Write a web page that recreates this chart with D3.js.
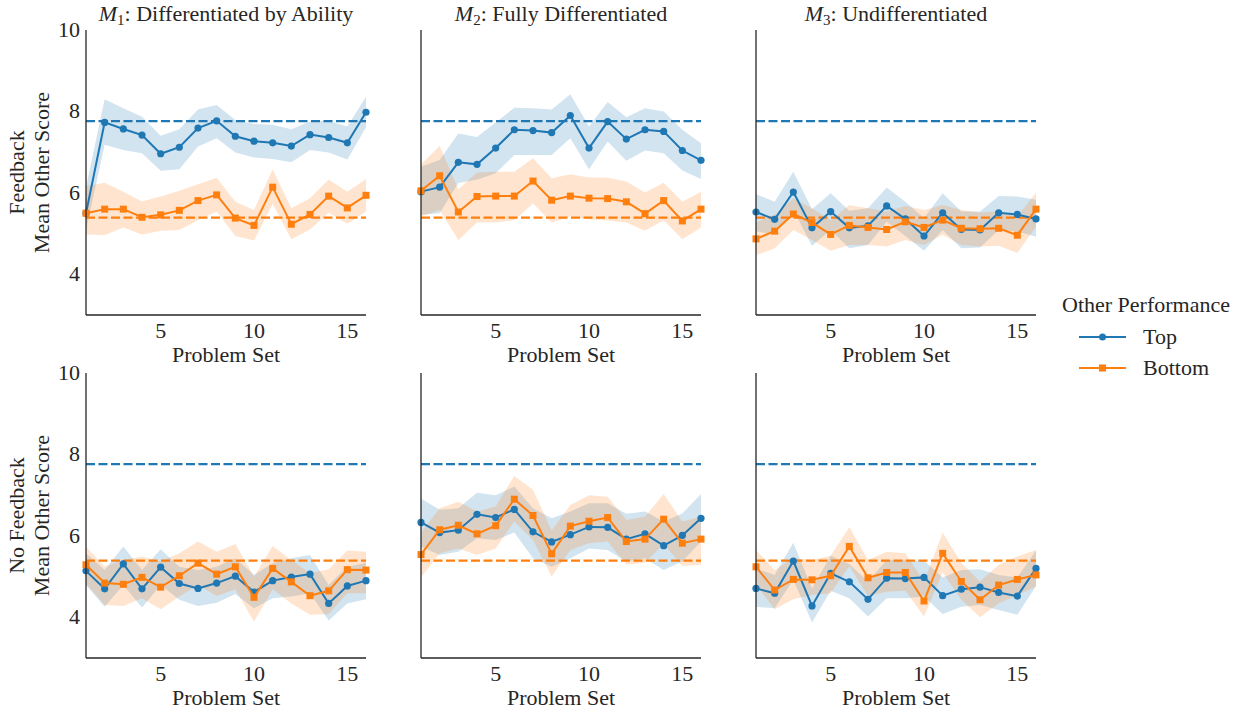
<!DOCTYPE html>
<html>
<head>
<meta charset="utf-8">
<script src="https://cdn.jsdelivr.net/npm/d3@7"></script>
<style>
  body { margin: 0; background: white; }
</style>
</head>
<body>
<div id="canvas"></div>
<script>
// Problem sets on the x axis
const problemSets = [1, 2, 3, 4, 5, 6, 7, 8, 9, 10, 11, 12, 13, 14, 15, 16];
const xTicks = [5, 10, 15];
const yTicks = [4, 6, 8, 10];
const columnTitles = [["M", "1", ": Differentiated by Ability"], ["M", "2", ": Fully Differentiated"], ["M", "3", ": Undifferentiated"]];
const rowLabels = [["Feedback", "Mean Other Score"], ["No Feedback", "Mean Other Score"]];
const seriesNames = ["Top", "Bottom"];
const refTop = 7.76;
const refBottom = 5.39;

// M1, feedback
const m1FbTop = [5.50, 7.73, 7.57, 7.42, 6.96, 7.12, 7.59, 7.77, 7.39, 7.27, 7.23, 7.15, 7.43, 7.36, 7.23, 7.98];
const m1FbTopLo = [5.08, 7.18, 7.05, 6.97, 6.54, 6.58, 7.14, 7.34, 6.99, 6.87, 6.83, 6.75, 7.05, 6.99, 6.82, 7.61];
const m1FbTopHi = [6.14, 8.30, 8.08, 7.87, 7.40, 7.56, 8.05, 8.16, 7.79, 7.69, 7.67, 7.56, 7.75, 7.77, 7.63, 8.36];
const m1FbBot = [5.50, 5.60, 5.60, 5.40, 5.46, 5.57, 5.81, 5.95, 5.38, 5.20, 6.14, 5.23, 5.47, 5.92, 5.63, 5.94];
const m1FbBotLo = [4.98, 4.96, 5.15, 4.98, 5.07, 5.09, 5.33, 5.54, 4.94, 4.83, 5.73, 4.86, 5.10, 5.51, 5.24, 5.54];
const m1FbBotHi = [6.17, 6.25, 6.03, 5.79, 5.91, 6.05, 6.21, 6.37, 5.78, 5.58, 6.58, 5.62, 5.87, 6.33, 6.03, 6.34];

// M2, feedback
const m2FbTop = [6.03, 6.14, 6.75, 6.70, 7.10, 7.55, 7.53, 7.48, 7.90, 7.10, 7.75, 7.32, 7.55, 7.51, 7.04, 6.80];
const m2FbTopLo = [5.46, 5.50, 6.24, 6.32, 6.48, 6.93, 6.93, 6.93, 7.34, 6.58, 7.26, 6.79, 7.04, 6.97, 6.55, 6.34];
const m2FbTopHi = [6.64, 6.81, 7.46, 7.37, 7.73, 8.09, 8.08, 8.05, 8.42, 7.63, 8.23, 7.86, 8.08, 8.00, 7.55, 7.22];
const m2FbBot = [6.05, 6.42, 5.53, 5.91, 5.92, 5.92, 6.29, 5.82, 5.92, 5.87, 5.86, 5.78, 5.49, 5.81, 5.31, 5.60];
const m2FbBotLo = [5.42, 5.58, 4.84, 5.27, 5.27, 5.33, 5.74, 5.27, 5.42, 5.35, 5.32, 5.27, 5.07, 5.33, 4.86, 5.15];
const m2FbBotHi = [6.69, 7.16, 6.09, 6.50, 6.52, 6.52, 6.85, 6.36, 6.46, 6.38, 6.37, 6.28, 6.01, 6.25, 5.78, 6.03];

// M3, feedback
const m3FbTop = [5.53, 5.35, 6.02, 5.14, 5.54, 5.14, 5.19, 5.68, 5.36, 4.94, 5.51, 5.10, 5.09, 5.51, 5.47, 5.36];
const m3FbTopLo = [5.06, 4.97, 5.58, 4.70, 5.09, 4.64, 4.72, 5.29, 4.94, 4.58, 5.09, 4.64, 4.66, 5.09, 5.05, 4.92];
const m3FbTopHi = [5.97, 5.78, 6.52, 5.60, 5.99, 5.56, 5.62, 6.13, 5.78, 5.38, 5.99, 5.54, 5.54, 5.92, 5.91, 5.83];
const m3FbBot = [4.87, 5.06, 5.48, 5.27, 4.98, 5.20, 5.15, 5.10, 5.29, 5.15, 5.33, 5.13, 5.12, 5.13, 4.96, 5.60];
const m3FbBotLo = [4.47, 4.64, 5.09, 4.84, 4.58, 4.72, 4.72, 4.68, 4.84, 4.72, 4.97, 4.72, 4.68, 4.70, 4.52, 5.17];
const m3FbBotHi = [5.27, 5.46, 5.87, 5.62, 5.33, 5.70, 5.62, 5.54, 5.68, 5.58, 5.70, 5.58, 5.52, 5.54, 5.42, 6.01];

// M1, no feedback
const m1NfTop = [5.14, 4.70, 5.31, 4.70, 5.23, 4.83, 4.71, 4.84, 5.01, 4.62, 4.90, 4.99, 5.06, 4.34, 4.77, 4.90];
const m1NfTopLo = [4.79, 4.26, 4.79, 4.24, 4.79, 4.43, 4.28, 4.36, 4.57, 4.22, 4.47, 4.51, 4.59, 3.92, 4.34, 4.44];
const m1NfTopHi = [5.57, 5.16, 5.74, 5.16, 5.67, 5.24, 5.16, 5.24, 5.45, 5.04, 5.33, 5.45, 5.53, 4.79, 5.24, 5.34];
const m1NfBot = [5.29, 4.84, 4.81, 4.98, 4.74, 5.02, 5.33, 5.06, 5.24, 4.49, 5.20, 4.87, 4.53, 4.65, 5.17, 5.16];
const m1NfBotLo = [4.83, 4.30, 4.28, 4.47, 4.20, 4.51, 4.79, 4.52, 4.69, 3.89, 4.69, 4.34, 4.06, 4.08, 4.59, 4.59];
const m1NfBotHi = [5.74, 5.24, 5.41, 5.49, 5.37, 5.57, 5.86, 5.61, 5.80, 5.00, 5.75, 5.41, 5.08, 5.18, 5.64, 5.61];

// M2, no feedback
const m2NfTop = [6.33, 6.08, 6.14, 6.53, 6.45, 6.65, 6.10, 5.85, 6.03, 6.22, 6.21, 5.92, 6.05, 5.76, 6.01, 6.43];
const m2NfTopLo = [5.74, 5.53, 5.61, 5.94, 5.90, 6.08, 5.45, 5.24, 5.45, 5.69, 5.65, 5.37, 5.45, 5.16, 5.37, 5.86];
const m2NfTopHi = [6.92, 6.64, 6.68, 7.06, 7.00, 7.21, 6.68, 6.43, 6.60, 6.80, 6.80, 6.54, 6.60, 6.35, 6.55, 7.03];
const m2NfBot = [5.54, 6.15, 6.26, 6.05, 6.25, 6.90, 6.50, 5.56, 6.24, 6.36, 6.45, 5.86, 5.92, 6.41, 5.82, 5.92];
const m2NfBotLo = [4.98, 5.57, 5.69, 5.53, 5.69, 6.35, 5.90, 5.00, 5.65, 5.82, 5.86, 5.29, 5.34, 5.80, 5.26, 5.29];
const m2NfBotHi = [6.08, 6.68, 6.84, 6.60, 6.72, 7.47, 7.13, 6.13, 6.76, 7.00, 6.96, 6.39, 6.47, 7.03, 6.35, 6.47];

// M3, no feedback
const m3NfTop = [4.71, 4.59, 5.38, 4.28, 5.08, 4.87, 4.44, 4.96, 4.95, 4.98, 4.53, 4.69, 4.74, 4.61, 4.52, 5.20];
const m3NfTopLo = [4.26, 4.22, 4.92, 3.87, 4.65, 4.47, 4.02, 4.47, 4.47, 4.51, 4.08, 4.26, 4.30, 4.18, 4.06, 4.77];
const m3NfTopHi = [5.20, 5.04, 5.83, 4.71, 5.51, 5.31, 4.88, 5.41, 5.41, 5.39, 4.98, 5.16, 5.18, 5.04, 4.98, 5.64];
const m3NfBot = [5.24, 4.67, 4.93, 4.92, 5.02, 5.74, 4.97, 5.10, 5.10, 4.40, 5.57, 4.88, 4.43, 4.79, 4.93, 5.04];
const m3NfBotLo = [4.79, 4.20, 4.44, 4.55, 4.59, 5.26, 4.52, 4.63, 4.65, 4.02, 5.10, 4.43, 4.00, 4.34, 4.55, 4.75];
const m3NfBotHi = [5.65, 5.16, 5.45, 5.41, 5.51, 6.21, 5.41, 5.61, 5.57, 4.88, 6.08, 5.34, 4.88, 5.29, 5.49, 5.65];

const panels = [
    [[m1FbTop, m1FbTopLo, m1FbTopHi, m1FbBot, m1FbBotLo, m1FbBotHi],
     [m2FbTop, m2FbTopLo, m2FbTopHi, m2FbBot, m2FbBotLo, m2FbBotHi],
     [m3FbTop, m3FbTopLo, m3FbTopHi, m3FbBot, m3FbBotLo, m3FbBotHi]],
    [[m1NfTop, m1NfTopLo, m1NfTopHi, m1NfBot, m1NfBotLo, m1NfBotHi],
     [m2NfTop, m2NfTopLo, m2NfTopHi, m2NfBot, m2NfBotLo, m2NfBotHi],
     [m3NfTop, m3NfTopLo, m3NfTopHi, m3NfBot, m3NfBotLo, m3NfBotHi]]
];

// Layout
const width = 1233;
const height = 709;
const panelLefts = [86, 421, 756];
const panelTops = [30, 373];
const panelW = 280;
const panelH = 285;
const blue = '#1f77b4';
const orange = '#ff7f0e';
const axisColor = '#262626';
const fontSize = 22;
const serif = 'Liberation Serif';

const xScale = d3.scaleLinear().domain([1, 16]).range([0, panelW]);
const yScale = d3.scaleLinear().domain([3, 10]).range([panelH, 0]);

const svg = d3.select('#canvas')
    .append('svg').attr('width', width).attr('height', height);

// every text element gets the serif font directly
const label = (sel) => sel.append('text')
    .attr('font-family', serif)
    .attr('font-size', fontSize)
    .attr('fill', axisColor);

const lineGen = d3.line()
    .x((d, i) => xScale(problemSets[i]))
    .y(d => yScale(d));

const bandGen = (lo, hi) => d3.area()
    .x((d, i) => xScale(problemSets[i]))
    .y0((d, i) => yScale(lo[i]))
    .y1((d, i) => yScale(hi[i]))(problemSets);

panels.forEach((row, r) => {
    row.forEach((p, c) => {
        const g = svg.append('g')
            .attr('transform', `translate(${panelLefts[c]},${panelTops[r]})`);

        // confidence bands
        g.append('path').attr('d', bandGen(p[1], p[2]))
            .attr('fill', blue).attr('opacity', 0.2);
        g.append('path').attr('d', bandGen(p[4], p[5]))
            .attr('fill', orange).attr('opacity', 0.2);

        // reference lines
        [[refTop, blue], [refBottom, orange]].forEach(([v, col]) => {
            g.append('line')
                .attr('x1', 0).attr('x2', panelW)
                .attr('y1', yScale(v)).attr('y2', yScale(v))
                .attr('stroke', col).attr('stroke-width', 2.3)
                .attr('stroke-dasharray', '9,3.5');
        });

        // mean lines
        g.append('path').attr('d', lineGen(p[0]))
            .attr('fill', 'none').attr('stroke', blue).attr('stroke-width', 2);
        g.selectAll('.dot')
            .data(p[0]).enter().append('circle')
            .attr('cx', (d, i) => xScale(problemSets[i]))
            .attr('cy', d => yScale(d))
            .attr('r', 3.6)
            .attr('fill', blue);

        g.append('path').attr('d', lineGen(p[3]))
            .attr('fill', 'none').attr('stroke', orange).attr('stroke-width', 2);
        g.selectAll('.sq')
            .data(p[3]).enter().append('rect')
            .attr('x', (d, i) => xScale(problemSets[i]) - 3.5)
            .attr('y', d => yScale(d) - 3.5)
            .attr('width', 7).attr('height', 7)
            .attr('fill', orange);

        // spines
        g.append('line').attr('x1', 0).attr('x2', 0).attr('y1', 0).attr('y2', panelH)
            .attr('stroke', axisColor).attr('stroke-width', 1.3);
        g.append('line').attr('x1', 0).attr('x2', panelW).attr('y1', panelH).attr('y2', panelH)
            .attr('stroke', axisColor).attr('stroke-width', 1.3);

        // x ticks
        xTicks.forEach(t => {
            label(g).attr('x', xScale(t)).attr('y', panelH + 23)
                .attr('text-anchor', 'middle').text(t);
        });
        label(g).attr('x', panelW / 2).attr('y', panelH + 47)
            .attr('text-anchor', 'middle').text('Problem Set');

        // y ticks and labels only on first column
        if (c === 0) {
            yTicks.forEach(t => {
                label(g).attr('x', -6).attr('y', yScale(t) + 7)
                    .attr('text-anchor', 'end').text(t);
            });
            rowLabels[r].forEach((t, k) => {
                label(g)
                    .attr('transform', `translate(${-62 + k * 25},${panelH / 2}) rotate(-90)`)
                    .attr('text-anchor', 'middle')
                    .text(t);
            });
        }

        // column titles on the top row
        if (r === 0) {
            const t = label(g).attr('x', panelW / 2).attr('y', -9)
                .attr('text-anchor', 'middle');
            t.append('tspan').attr('font-style', 'italic').text(columnTitles[c][0]);
            t.append('tspan').attr('font-size', 15).attr('dy', 4).text(columnTitles[c][1]);
            t.append('tspan').attr('dy', -4).text(columnTitles[c][2]);
        }
    });
});

// Legend
const legend = svg.append('g').attr('transform', 'translate(1146,0)');
label(legend).attr('x', 0).attr('y', 312)
    .attr('text-anchor', 'middle').text('Other Performance');
seriesNames.forEach((name, i) => {
    const y = 337 + i * 31;
    const col = i === 0 ? blue : orange;
    legend.append('line')
        .attr('x1', -67).attr('x2', -20).attr('y1', y).attr('y2', y)
        .attr('stroke', col).attr('stroke-width', 2);
    if (i === 0) {
        legend.append('circle').attr('cx', -43.5).attr('cy', y).attr('r', 3.5).attr('fill', col);
    } else {
        legend.append('rect').attr('x', -47).attr('y', y - 3.5).attr('width', 7).attr('height', 7).attr('fill', col);
    }
    label(legend).attr('x', -3).attr('y', y + 7).text(name);
});
</script>
</body>
</html>
